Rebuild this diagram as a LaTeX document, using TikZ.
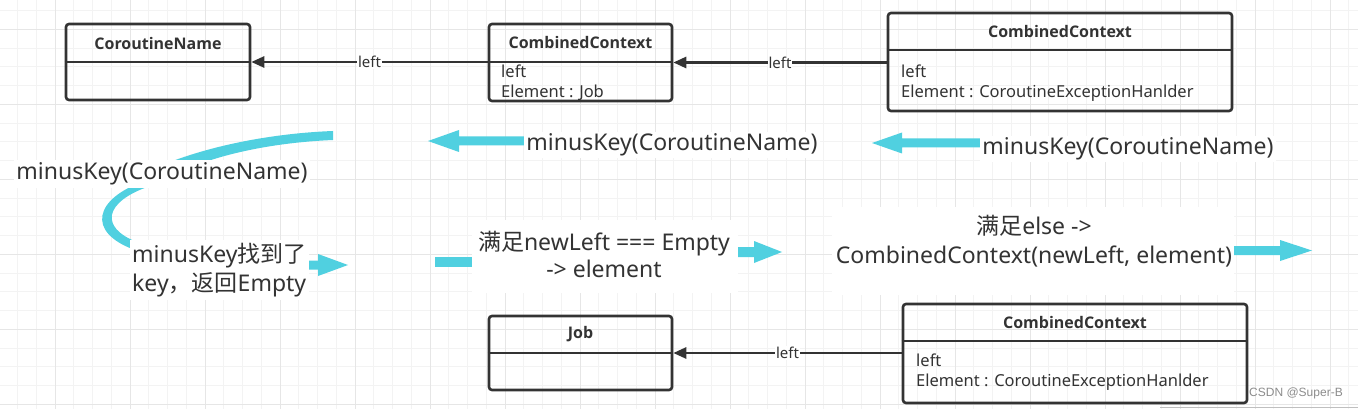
\documentclass[tikz,border=0pt]{standalone}
\usepackage{fontspec}
\setmainfont{Noto Sans}
\newfontfamily\cjk{Noto Sans CJK SC}
\newfontfamily\wmfont{Liberation Sans}
\newfontfamily\ttlfont{Open Sans}
\usetikzlibrary{arrows.meta}
\definecolor{ink}{HTML}{333333}
\definecolor{cy}{RGB}{80,208,224}
\definecolor{gminor}{HTML}{F3F3F3}
\definecolor{gmajor}{HTML}{E6E6E6}
\newcommand\cyarrow[6]{%
  \fill[cy] (#1,#4-#5) -- (#2,#4-#5) -- (#2,#4-#6) -- (#3,#4) -- (#2,#4+#6) -- (#2,#4+#5) -- (#1,#4+#5) -- cycle;}
\tikzset{
  umlbox/.style={draw=ink, line width=2.6pt, rounded corners=3pt, inner sep=0pt},
  divider/.style={draw=ink, line width=2.4pt},
  ttl/.style={font=\ttlfont\fontsize{16}{19}\selectfont\bfseries, text=ink, inner sep=0pt},
  body/.style={font=\fontsize{16.5}{20}\selectfont, text=ink, inner sep=0pt, align=left, anchor=north west},
  conn/.style={draw=ink, line width=2.6pt, -{Triangle[length=13pt,width=11pt]}},
  lft/.style={font=\fontsize{15}{18}\selectfont, text=ink, fill=white, inner sep=1pt},
  cyt/.style={font=\fontsize{23}{29}\selectfont, text=ink, fill=white, inner sep=2pt},
}
\begin{document}
\begin{tikzpicture}[x=1pt,y=-1pt]
\useasboundingbox (0,0) rectangle (1358,409);
\fill[white] (0,0) rectangle (1358,409);
% grid
\foreach \i in {0,...,73} {\draw[gminor, line width=1pt] ({-1.25+\i*18.75},0) -- ({-1.25+\i*18.75},409);}
\foreach \j in {0,...,21} {\draw[gminor, line width=1pt] (0,{10.55+\j*18.75}) -- (1358,{10.55+\j*18.75});}
\foreach \i in {0,...,17} {\draw[gmajor, line width=1pt] ({55+\i*75},0) -- ({55+\i*75},409);}
\foreach \j in {0,...,5} {\draw[gmajor, line width=1pt] (0,{29.3+\j*75}) -- (1358,{29.3+\j*75});}
% cyan curved stroke
\fill[cy] (333,131) .. controls (280,133) and (220,143) .. (170,162) -- (205,162) .. controls (240,150) and (285,142) .. (333,140) -- cycle;
\fill[cy] (145,181) .. controls (95,198) and (85,232) .. (135,250) -- (137,242) .. controls (100,228) and (103,202) .. (150,186) -- cycle;
% cyan block arrows
\cyarrow{524}{459}{428}{141}{4.5}{11}
\cyarrow{982}{902}{872}{143}{4.5}{10.5}
\cyarrow{300}{318}{348}{265}{4.5}{11}
\fill[cy] (435,257) rectangle (480,267);
\cyarrow{730}{754}{782}{252}{5}{11}
\cyarrow{1230}{1280}{1312}{250.5}{4.5}{10.5}
% white backgrounds of the text blocks
\fill[white] (472,220) rectangle (738,293);
\fill[white] (832,207) rectangle (1234,295);
% cyan texts
\node[cyt, minimum width=293pt, minimum height=28pt] (t1) at (162,174) {minusKey(CoroutineName)};
\node[cyt] (t2) at (672,145) {minusKey(CoroutineName)};
\node[cyt] (t3) at (1128,149) {minusKey(CoroutineName)};
\node[cyt, align=left, anchor=west, minimum height=60pt] (t4) at (130,270) {minusKey{\cjk 找到了}\\key{\cjk ，返回}Empty};
\node[cyt, align=center, inner sep=0pt, font=\fontsize{23}{27}\selectfont] (t5) at (604,254) {{\cjk 满足}newLeft === Empty\\-> element};
\node[cyt, align=center, inner sep=0pt] (t6) at (1034,241) {{\cjk 满足}else ->\\CombinedContext(newLeft, element)};
% boxes
\node[umlbox, minimum width=184pt, minimum height=76pt] (b1) at (158,62) {};
\draw[divider] (b1.west |- 0,62) -- (b1.east |- 0,62);
\node[ttl] (b1t) at (158,44) {CoroutineName};

\node[umlbox, minimum width=183pt, minimum height=77pt] (b2) at (580.5,62.5) {};
\draw[divider] (b2.west |- 0,62) -- (b2.east |- 0,62);
\node[ttl] (b2t) at (580.5,43) {CombinedContext};
\node[body] (b2b) at (501,65) {left\\Element : Job};

\node[umlbox, minimum width=344pt, minimum height=98pt] (b3) at (1060,62) {};
\draw[divider] (b3.west |- 0,50) -- (b3.east |- 0,50);
\node[ttl] (b3t) at (1060,32) {CombinedContext};
\node[body] (b3b) at (901,65) {left\\Element : CoroutineExceptionHanlder};

\node[umlbox, minimum width=183pt, minimum height=74pt] (b4) at (580.5,353) {};
\draw[divider] (b4.west |- 0,353) -- (b4.east |- 0,353);
\node[ttl] (b4t) at (580.5,334) {Job};

\node[umlbox, minimum width=344pt, minimum height=99pt] (b5) at (1075,353.5) {};
\draw[divider] (b5.west |- 0,341) -- (b5.east |- 0,341);
\node[ttl] (b5t) at (1075,322) {CombinedContext};
\node[body] (b5b) at (916,354) {left\\Element : CoroutineExceptionHanlder};
% connectors
\draw[conn] (b2.west |- 0,62) -- node[lft] {left} (b1.east |- 0,62);
\draw[conn] (b3.west |- 0,62.5) -- node[lft] {left} (b2.east |- 0,62.5);
\draw[conn] (b5.west |- 0,353) -- node[lft] {left} (b4.east |- 0,353);
% watermark
\node[font=\wmfont\fontsize{12}{14}\selectfont, text=black!45, inner sep=0pt] (wm) at (1296,393) {CSDN @Super-B};
\coordinate (bl1) at (1160,407.5);
\coordinate (bl2) at (1358,407.5);
\draw[black!25, line width=1.5pt] (bl1) -- (bl2);
\end{tikzpicture}
\end{document}
